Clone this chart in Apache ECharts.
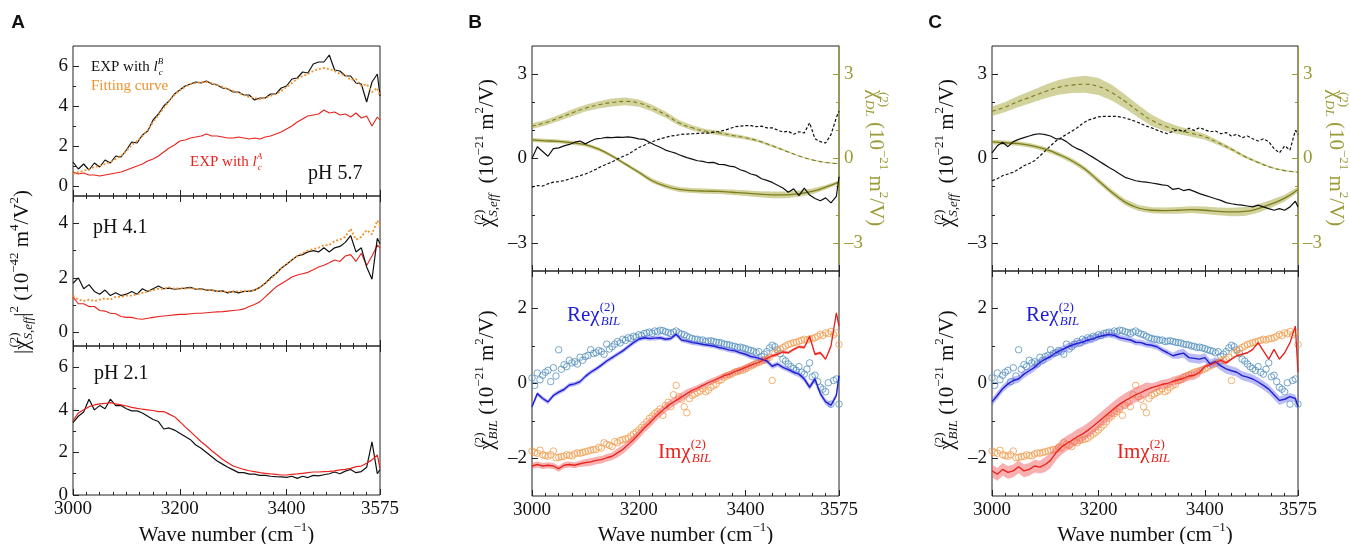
<!DOCTYPE html>
<html><head><meta charset="utf-8">
<script src="https://cdn.jsdelivr.net/npm/echarts@6/dist/echarts.min.js"></script>
<style>html,body{margin:0;padding:0;background:#fff}#c{width:1350px;height:544px}</style>
</head><body><div id="c"></div>
<script>
// ---------- DATA ----------
const wn = [3000,3010,3020,3030,3040,3050,3060,3070,3080,3090,
 3100,3110,3120,3130,3140,3150,3160,3170,3180,3190,
 3200,3210,3220,3230,3240,3250,3260,3270,3280,3290,
 3300,3310,3320,3330,3340,3350,3360,3370,3380,3390,
 3400,3410,3420,3430,3440,3450,3460,3470,3480,3490,
 3500,3510,3520,3530,3540,3550,3560,3570,3575];
const wn5 = [3005,3015,3025,3035,3045,3055,3065,3075,3085,3095,
 3105,3115,3125,3135,3145,3155,3165,3175,3185,3195,
 3205,3215,3225,3235,3245,3255,3265,3275,3285,3295,
 3305,3315,3325,3335,3345,3355,3365,3375,3385,3395,
 3405,3415,3425,3435,3445,3455,3465,3475,3485,3495,
 3505,3515,3525,3535,3545,3555,3565];
const wn25 = [3000,3025,3050,3075,3100,3125,3150,3175,3200,3225,3250,3275,3300,3325,3350,3375,3400,3425,3450,3475,3500,3525,3550,3575];
const xLabelVals = [3000,3200,3400,3575];

// Panel A, pH 5.7
const aBlk1 = [1.2,0.85,1.1,0.8,1.15,0.95,1.3,1.15,1.5,1.45,
 1.8,2.2,2.15,2.55,2.75,3.3,3.6,4.0,4.25,4.6,
 4.8,5.0,5.1,5.2,5.15,5.25,5.1,5.05,4.9,4.85,
 4.7,4.7,4.55,4.55,4.3,4.4,4.4,4.6,4.6,4.9,
 5.0,5.35,5.4,5.7,5.65,6.1,6.2,6.2,6.55,5.8,
 5.75,5.5,5.5,5.15,5.1,4.2,5.2,5.6,4.5];
const aFit1 = [0.6,0.7,0.75,0.85,0.95,1.0,1.1,1.2,1.35,1.5,
 1.75,2.05,2.25,2.5,2.8,3.2,3.55,3.9,4.25,4.55,
 4.8,4.95,5.1,5.15,5.2,5.2,5.15,5.05,4.95,4.85,
 4.75,4.65,4.55,4.45,4.4,4.35,4.4,4.5,4.6,4.75,
 4.95,5.15,5.35,5.5,5.6,5.75,5.85,5.9,5.85,5.75,
 5.6,5.55,5.3,5.35,5.0,5.1,4.7,4.9,4.5];
const aRed1 = [0.7,0.6,0.65,0.55,0.55,0.5,0.55,0.6,0.65,0.7,
 0.8,0.9,1.0,1.1,1.25,1.35,1.5,1.7,1.9,2.05,
 2.25,2.3,2.4,2.45,2.5,2.6,2.5,2.5,2.45,2.4,
 2.4,2.45,2.4,2.35,2.4,2.35,2.45,2.5,2.6,2.7,
 2.85,3.0,3.2,3.35,3.5,3.55,3.6,3.8,3.65,3.7,
 3.55,3.6,3.45,3.65,3.4,3.5,3.0,3.45,3.3];
// Panel A, pH 4.1
const aBlk2 = [1.8,2.0,1.6,1.75,1.5,1.4,1.55,1.35,1.45,1.35,
 1.4,1.5,1.4,1.6,1.5,1.6,1.7,1.6,1.62,1.58,
 1.6,1.62,1.65,1.58,1.6,1.55,1.55,1.5,1.52,1.45,
 1.5,1.45,1.5,1.5,1.55,1.65,1.8,2.0,2.15,2.35,
 2.5,2.65,2.8,2.85,2.95,3.0,2.95,3.1,2.95,3.1,
 3.15,3.3,3.55,2.95,3.1,2.4,1.95,3.45,3.25];
const aFit2 = [1.35,1.2,1.15,1.2,1.15,1.2,1.25,1.2,1.3,1.3,
 1.35,1.35,1.4,1.45,1.5,1.55,1.6,1.6,1.65,1.6,
 1.62,1.6,1.62,1.6,1.58,1.55,1.55,1.5,1.5,1.48,
 1.5,1.5,1.5,1.52,1.55,1.65,1.8,1.95,2.15,2.35,
 2.5,2.65,2.8,2.9,3.0,3.05,3.1,3.2,3.2,3.35,
 3.4,3.5,3.8,3.4,3.5,3.75,3.6,4.1,3.9];
const aRed2 = [1.3,1.05,1.05,0.95,0.95,0.8,0.78,0.7,0.68,0.58,
 0.55,0.55,0.5,0.48,0.52,0.55,0.58,0.6,0.62,0.64,
 0.66,0.66,0.68,0.7,0.7,0.72,0.74,0.75,0.76,0.78,
 0.8,0.82,0.86,0.95,1.02,1.12,1.3,1.48,1.66,1.78,
 1.9,2.03,2.1,2.15,2.2,2.3,2.4,2.46,2.55,2.65,
 2.6,2.8,2.85,2.6,2.9,2.45,2.8,3.2,3.1];
// Panel A, pH 2.1
const aBlk3 = [3.4,3.7,3.9,4.5,4.0,4.2,4.05,4.5,4.2,4.2,
 4.05,3.95,3.95,3.85,3.7,3.55,3.45,3.1,3.15,3.05,
 2.9,2.75,2.6,2.35,2.2,2.0,1.8,1.6,1.45,1.3,
 1.18,1.05,1.05,0.98,0.98,0.92,0.92,0.88,0.86,0.85,
 0.83,0.88,0.78,0.88,0.82,0.92,0.9,0.95,1.0,1.08,
 1.0,1.12,1.2,1.05,1.1,1.3,2.5,1.0,1.2];
const aRed3 = [3.5,3.85,4.0,4.15,4.23,4.28,4.3,4.34,4.28,4.23,
 4.18,4.12,4.07,4.03,4.0,3.97,3.92,3.92,3.8,3.68,
 3.45,3.2,2.98,2.74,2.5,2.3,2.08,1.88,1.68,1.52,
 1.36,1.28,1.2,1.14,1.1,1.05,1.02,0.99,0.97,0.94,
 0.94,0.97,0.99,1.02,1.05,1.08,1.08,1.1,1.11,1.13,
 1.18,1.2,1.25,1.33,1.36,1.49,1.65,1.88,1.25];

// Panel B top
const bBlkS = [0.0,0.42,0.25,0.08,0.35,0.38,0.45,0.5,0.58,0.62,
 0.52,0.62,0.7,0.72,0.75,0.74,0.76,0.75,0.77,0.74,
 0.7,0.68,0.58,0.48,0.4,0.3,0.24,0.18,0.1,0.03,
 -0.02,-0.08,-0.1,-0.15,-0.14,-0.21,-0.22,-0.27,-0.3,-0.4,
 -0.46,-0.55,-0.6,-0.72,-0.78,-0.85,-0.95,-1.05,-1.2,-1.08,
 -1.32,-1.05,-1.3,-1.42,-1.5,-1.4,-1.58,-1.35,-0.65];
const bBlkD = [-1.02,-0.96,-0.98,-0.9,-0.84,-0.82,-0.79,-0.73,-0.67,-0.61,
 -0.55,-0.47,-0.38,-0.28,-0.2,-0.12,-0.02,0.07,0.15,0.27,
 0.39,0.47,0.56,0.63,0.7,0.75,0.8,0.82,0.86,0.87,
 0.88,0.89,0.9,0.9,0.94,0.96,1.0,1.06,1.13,1.15,
 1.17,1.17,1.13,1.15,1.09,1.09,1.01,0.94,0.97,0.86,
 0.95,0.91,1.27,0.7,0.6,0.55,0.85,1.45,1.68];
const bDLre = [1.15,1.27,1.44,1.62,1.79,1.91,1.99,2.03,1.97,1.79,1.56,1.27,1.09,0.97,0.91,0.82,0.74,0.62,0.45,0.27,0.09,-0.05,-0.14,-0.18];
const bDLreErr = [0.1,0.1,0.11,0.12,0.12,0.13,0.14,0.14,0.13,0.12,0.11,0.1,0.09,0.08,0.08,0.07,0.06,0.05,0.04,0.03,0.02,0.02,0.02,0.02];
const bDLim = [0.66,0.63,0.61,0.56,0.49,0.33,0.09,-0.2,-0.49,-0.79,-0.98,-1.1,-1.14,-1.16,-1.17,-1.2,-1.23,-1.27,-1.29,-1.29,-1.25,-1.17,-1.02,-0.84];
const bDLimErr = [0.07,0.07,0.07,0.07,0.06,0.06,0.06,0.06,0.07,0.08,0.09,0.09,0.09,0.09,0.09,0.1,0.1,0.11,0.12,0.12,0.11,0.1,0.08,0.06];

// Panel B bottom
const bRe = [-0.62,-0.27,-0.4,-0.49,-0.32,-0.23,-0.16,-0.04,-0.01,0.05,
 0.19,0.3,0.39,0.49,0.6,0.69,0.78,0.87,0.98,1.09,
 1.18,1.22,1.2,1.21,1.22,1.18,1.2,1.31,1.16,1.13,
 1.09,1.07,1.04,1.02,1.0,0.96,0.93,0.89,0.87,0.82,
 0.78,0.72,0.69,0.65,0.6,0.46,0.52,0.43,0.37,0.3,
 0.25,0.12,-0.1,0.12,-0.27,-0.49,-0.58,-0.32,0.21];
const bReErr = [0.06,0.06,0.06,0.06,0.06,0.06,0.06,0.06,0.06,0.06,
 0.06,0.06,0.06,0.06,0.06,0.06,0.06,0.06,0.06,0.06,
 0.06,0.06,0.06,0.06,0.06,0.06,0.06,0.06,0.06,0.06,
 0.06,0.06,0.06,0.06,0.06,0.06,0.06,0.06,0.06,0.06,
 0.07,0.07,0.07,0.07,0.07,0.07,0.07,0.07,0.07,0.07,
 0.08,0.08,0.08,0.08,0.08,0.08,0.08,0.08,0.08];
const bIm = [-2.2,-2.16,-2.2,-2.18,-2.2,-2.27,-2.18,-2.16,-2.18,-2.14,
 -2.11,-2.09,-2.05,-2.03,-1.98,-1.94,-1.85,-1.76,-1.63,-1.5,
 -1.35,-1.19,-1.06,-0.91,-0.77,-0.65,-0.54,-0.45,-0.36,-0.27,
 -0.18,-0.12,-0.05,0.02,0.08,0.14,0.21,0.25,0.32,0.37,
 0.43,0.49,0.54,0.6,0.67,0.74,0.78,0.84,0.82,0.91,
 0.98,0.96,1.26,0.78,0.82,0.65,1.0,1.88,1.53];
const bImErr = [0.08,0.08,0.08,0.08,0.08,0.08,0.08,0.08,0.08,0.08,
 0.1,0.1,0.1,0.1,0.1,0.1,0.12,0.12,0.12,0.12,
 0.12,0.12,0.12,0.12,0.12,0.12,0.12,0.12,0.12,0.12,
 0.08,0.08,0.08,0.08,0.08,0.08,0.08,0.08,0.08,0.08,
 0.08,0.08,0.08,0.08,0.08,0.04,0.04,0.04,0.04,0.04,
 0.04,0.04,0.04,0.04,0.04,0.04,0.04,0.04,0.04];
// measured circles (shared by B and C), two interleaved sets
const reCirc = [0.15,0.28,0.22,0.35,0.42,0.9,0.5,0.62,0.58,0.7,
 0.72,0.9,0.82,0.85,1.05,0.98,1.12,1.18,1.22,1.26,
 1.3,1.33,1.37,1.4,1.42,1.38,1.33,1.4,1.32,1.26,
 1.2,1.18,1.16,1.13,1.12,1.09,1.05,1.03,0.99,0.97,
 0.93,0.88,0.82,0.72,0.85,1.02,0.9,0.65,0.52,0.4,
 0.45,0.25,0.55,0.22,-0.1,-0.22,-0.55,0.12,-0.55];
const reCirc2 = [-0.05,0.1,0.3,0.05,0.2,0.38,0.45,0.55,0.52,0.62,
 0.75,0.8,0.88,0.78,0.92,1.05,1.08,1.15,1.2,1.24,
 1.28,1.35,1.34,1.38,1.41,1.36,1.37,1.35,1.3,1.22,
 1.18,1.15,1.12,1.14,1.1,1.08,1.04,1.0,0.96,0.95,
 0.9,0.86,0.85,0.78,0.95,0.98,0.8,0.6,0.45,0.35,
 0.3,0.38,0.18,0.05,-0.15,0.02,0.08];
const imCirc = [-1.8,-1.86,-1.9,-1.94,-1.8,-1.97,-1.94,-1.92,-1.88,-1.86,
 -1.82,-1.78,-1.76,-1.72,-1.62,-1.68,-1.58,-1.5,-1.46,-1.35,
 -1.24,-1.1,-0.93,-0.8,-0.68,-0.58,-0.62,-0.05,-0.42,-0.78,
 -0.32,-0.24,-0.14,-0.18,-0.05,0.08,0.17,0.23,0.3,0.34,
 0.39,0.47,0.54,0.6,0.65,0.08,0.87,0.96,1.04,1.09,
 1.13,1.18,1.19,1.22,1.31,1.35,1.39,1.35,1.04];
const imCirc2 = [-1.84,-1.78,-1.92,-1.9,-1.98,-1.95,-1.9,-1.93,-1.85,-1.84,
 -1.8,-1.76,-1.7,-1.58,-1.65,-1.55,-1.52,-1.48,-1.4,-1.3,
 -1.17,-1.02,-0.87,-0.75,-0.85,-0.5,-0.3,-0.35,-0.62,-0.4,
 -0.28,-0.2,-0.22,-0.1,-0.02,0.1,0.2,0.26,0.32,0.36,
 0.43,0.5,0.56,0.62,0.7,0.8,0.92,1.0,1.06,1.1,
 1.15,1.16,1.2,1.26,1.28,1.33,1.3];

// Panel C top
const cBlkS = [0.2,0.45,0.58,0.42,0.6,0.68,0.74,0.8,0.86,0.88,
 0.85,0.8,0.7,0.7,0.6,0.45,0.35,0.27,0.15,0.04,
 -0.08,-0.2,-0.32,-0.43,-0.55,-0.67,-0.73,-0.79,-0.82,-0.84,
 -0.87,-0.9,-0.94,-0.96,-1.1,-1.06,-1.14,-1.1,-1.17,-1.25,
 -1.31,-1.37,-1.43,-1.49,-1.57,-1.61,-1.64,-1.66,-1.69,-1.72,
 -1.66,-1.72,-1.78,-1.84,-1.78,-1.84,-1.72,-1.52,-1.72];
const cBlkD = [-0.79,-0.72,-0.61,-0.55,-0.49,-0.38,-0.26,-0.18,-0.08,0.09,
 0.27,0.45,0.62,0.74,0.86,0.97,1.09,1.24,1.36,1.42,
 1.48,1.5,1.5,1.5,1.48,1.44,1.38,1.32,1.24,1.15,
 1.09,1.01,0.94,0.88,0.97,1.03,0.95,1.08,1.0,1.1,
 1.02,0.95,0.98,0.88,0.92,0.8,0.86,0.74,0.8,0.7,
 0.62,0.7,0.6,0.35,0.2,0.45,0.3,1.0,0.85];
const cDLre = [1.68,1.83,2.03,2.2,2.38,2.53,2.61,2.64,2.56,2.34,2.03,1.68,1.36,1.15,1.01,0.89,0.77,0.56,0.33,0.07,-0.14,-0.32,-0.43,-0.49];
const cDLreErr = [0.17,0.18,0.2,0.22,0.24,0.26,0.28,0.3,0.3,0.28,0.25,0.22,0.2,0.17,0.14,0.12,0.1,0.08,0.06,0.05,0.04,0.03,0.02,0.02];
const cDLim = [0.59,0.56,0.53,0.45,0.33,0.15,-0.08,-0.38,-0.79,-1.2,-1.55,-1.76,-1.84,-1.85,-1.84,-1.82,-1.84,-1.88,-1.9,-1.88,-1.78,-1.61,-1.41,-1.1];
const cDLimErr = [0.08,0.08,0.08,0.08,0.08,0.08,0.09,0.09,0.1,0.1,0.11,0.11,0.11,0.11,0.12,0.12,0.13,0.14,0.15,0.16,0.15,0.14,0.12,0.1];

// Panel C bottom
const cRe = [-0.49,-0.32,-0.14,-0.01,0.08,0.12,0.25,0.34,0.43,0.56,
 0.65,0.72,0.82,0.89,0.96,1.02,1.07,1.1,1.16,1.19,
 1.25,1.28,1.31,1.28,1.22,1.19,1.16,1.1,1.09,1.04,
 1.02,0.98,0.89,0.82,0.74,0.78,0.81,0.69,0.67,0.65,
 0.69,0.52,0.58,0.47,0.39,0.34,0.3,0.21,0.17,0.12,
 0.04,-0.05,-0.15,-0.3,-0.45,-0.42,-0.35,-0.4,-0.62];
const cReErr = [0.1,0.1,0.1,0.1,0.1,0.1,0.1,0.1,0.1,0.1,
 0.1,0.1,0.1,0.1,0.1,0.1,0.1,0.1,0.1,0.1,
 0.08,0.08,0.08,0.08,0.08,0.08,0.08,0.08,0.08,0.08,
 0.08,0.08,0.08,0.08,0.08,0.12,0.12,0.12,0.12,0.12,
 0.12,0.12,0.12,0.12,0.12,0.12,0.12,0.12,0.12,0.12,
 0.12,0.12,0.12,0.12,0.12,0.1,0.1,0.1,0.1];
const cIm = [-2.33,-2.42,-2.29,-2.37,-2.33,-2.22,-2.33,-2.29,-2.2,-2.23,
 -2.16,-2.05,-1.85,-1.7,-1.6,-1.52,-1.42,-1.35,-1.25,-1.14,
 -1.02,-0.9,-0.78,-0.66,-0.55,-0.46,-0.38,-0.3,-0.24,-0.17,
 -0.11,-0.07,-0.02,0.0,0.06,0.1,0.14,0.2,0.22,0.3,
 0.45,0.5,0.56,0.62,0.55,0.65,0.74,0.78,0.82,0.91,
 1.09,0.87,0.65,0.91,0.65,0.82,1.09,1.53,0.3];
const cImErr = [0.17,0.17,0.17,0.17,0.17,0.17,0.17,0.17,0.17,0.17,
 0.2,0.2,0.2,0.2,0.2,0.2,0.2,0.2,0.2,0.2,
 0.2,0.2,0.2,0.2,0.2,0.2,0.2,0.2,0.2,0.2,
 0.12,0.12,0.12,0.12,0.12,0.12,0.12,0.12,0.12,0.12,
 0.05,0.05,0.05,0.05,0.05,0.02,0.02,0.02,0.02,0.02,
 0.02,0.02,0.02,0.02,0.02,0.02,0.02,0.02,0.02];

// ---------- STYLE ----------
const SERIF = '"Liberation Serif","Times New Roman",serif';
const SANS = '"Liberation Sans",Arial,sans-serif';
const INK = '#111';
const RED = '#e8231d';
const ORANGE = '#f0922e';
const OLIVE = '#7c7c1c';
const OLIVE_AX = '#9a9a36';
const OLIVE_BAND = 'rgba(165,165,60,0.5)';
const BLUE = '#1e1ed4';
const BLUE_BAND = 'rgba(105,105,235,0.45)';
const RED_BAND = 'rgba(242,95,95,0.5)';
const CIRC_BLUE = '#5591bd';
const CIRC_ORANGE = '#f29c4c';

const grids = [
  {left:73, top:46, width:307, height:150},
  {left:73, top:196, width:307, height:150},
  {left:73, top:346, width:307, height:149},
  {left:532, top:46, width:307, height:225},
  {left:532, top:271, width:307, height:225},
  {left:992, top:46, width:306, height:225},
  {left:992, top:271, width:306, height:225}
].map(g => Object.assign({show:true, borderColor:'#222', borderWidth:1, backgroundColor:'transparent', outerBoundsMode:'none', containLabel:false}, g));

const bottomGrids = [2,4,6];
const lowerGrids = [1,2,4,6];
const yCfg = [
  {min:-0.5, max:7, major:[0,2,4,6], minor:[1,3,5]},
  {min:-0.5, max:5, major:[0,2,4], minor:[1,3]},
  {min:0, max:7, major:[0,2,4,6], minor:[1,3,5]},
  {min:-4, max:4, major:[-3,0,3], minor:[-2,-1,1,2], right:true},
  {min:-3, max:3, major:[-2,0,2], minor:[-1,1]},
  {min:-4, max:4, major:[-3,0,3], minor:[-2,-1,1,2], right:true},
  {min:-3, max:3, major:[-2,0,2], minor:[-1,1]}
];
const fmt = v => v < 0 ? '\u2013' + Math.abs(v) : String(v);
const TICKFS = 19;

const xAxes = [], yAxes = [], xMain = [], yMain = [], yRight = [];
function xAx(g, pos, interval, len, labels) {
  return {type:'value', gridIndex:g, position:pos, min:3000, max:3575, interval:interval,
    axisLine:{show:false, onZero:false},
    axisTick:{show:true, inside:true, length:len, lineStyle:{color:'#222', width:1}},
    axisLabel: labels ? {show:true, customValues:xLabelVals, formatter:v => String(v), fontFamily:SERIF, fontSize:TICKFS, color:INK, margin:5} : {show:false},
    splitLine:{show:false}};
}
function yAx(g, pos, c, ticks, len, labels, color, line) {
  return {type:'value', gridIndex:g, position:pos, min:c.min, max:c.max,
    axisLine:{show:!!line, onZero:false, lineStyle:{color:color, width:1}},
    axisTick:{show:true, inside:true, length:len, customValues:ticks, lineStyle:{color:color, width:1}},
    axisLabel: labels ? {show:true, customValues:labels, formatter:fmt, fontFamily:SERIF, fontSize:TICKFS, color:color === '#222' ? INK : color, margin:5} : {show:false},
    splitLine:{show:false}};
}
grids.forEach((gr, g) => {
  xMain[g] = xAxes.length;
  xAxes.push(xAx(g, 'bottom', 25, 3, bottomGrids.includes(g)));
  xAxes.push(xAx(g, 'bottom', 200, 6, false));
  if (lowerGrids.includes(g)) {
    xAxes.push(xAx(g, 'top', 25, 3, false));
    xAxes.push(xAx(g, 'top', 200, 6, false));
  }
  const c = yCfg[g];
  yMain[g] = yAxes.length;
  yAxes.push(yAx(g, 'left', c, c.major, 6, c.major, '#222', false));
  yAxes.push(yAx(g, 'left', c, c.minor, 3, null, '#222', false));
  if (c.right) {
    yRight[g] = yAxes.length;
    yAxes.push(yAx(g, 'right', c, c.major, 6, c.major, OLIVE_AX, true));
    yAxes.push(yAx(g, 'right', c, c.minor, 3, null, OLIVE_AX, false));
  }
});

const pairs = (xs, ys) => xs.map((x, i) => [x, ys[i]]);
function line(g, xs, ys, color, o = {}) {
  return {type:'line', xAxisIndex:xMain[g], yAxisIndex:o.right ? yRight[g] : yMain[g],
    data:pairs(xs, ys), showSymbol:false, symbol:'none', smooth:!!o.smooth, z:o.z || 3, silent:true,
    lineStyle:{color:color, width:o.w || 1.2, type:o.dash || 'solid'}};
}
function circles(g, xs, ys, color) {
  return {type:'scatter', xAxisIndex:xMain[g], yAxisIndex:yMain[g], data:pairs(xs, ys),
    symbol:'circle', symbolSize:6.5, z:1, silent:true,
    itemStyle:{color:'rgba(255,255,255,0)', borderColor:color, borderWidth:1}};
}
function band(g, xs, c, e, fill, right) {
  return {type:'custom', coordinateSystem:'cartesian2d', xAxisIndex:xMain[g], yAxisIndex:right ? yRight[g] : yMain[g],
    data:pairs(xs, c), encode:{x:0, y:1}, z:2, silent:true,
    renderItem:(params, api) => {
      if (params.dataIndex !== 0) return null;
      const pts = [];
      for (let i = 0; i < xs.length; i++) pts.push(api.coord([xs[i], c[i] + e[i]]));
      for (let i = xs.length - 1; i >= 0; i--) pts.push(api.coord([xs[i], c[i] - e[i]]));
      return {type:'polygon', shape:{points:pts}, style:{fill:fill, stroke:null}};
    }};
}

const series = [
  // A
  line(0, wn, aRed1, RED, {w:1.1}),
  line(0, wn, aBlk1, INK, {w:1.2}),
  line(0, wn, aFit1, ORANGE, {w:1.8, dash:[2,2], z:4}),
  line(1, wn, aRed2, RED, {w:1.1}),
  line(1, wn, aBlk2, INK, {w:1.2}),
  line(1, wn, aFit2, ORANGE, {w:1.8, dash:[2,2], z:4}),
  line(2, wn, aBlk3, INK, {w:1.2}),
  line(2, wn, aRed3, RED, {w:1.2, z:4}),
  // B top
  band(3, wn25, bDLre, bDLreErr, OLIVE_BAND, true),
  band(3, wn25, bDLim, bDLimErr, OLIVE_BAND, true),
  line(3, wn25, bDLre, OLIVE, {right:true, smooth:true, dash:[4,3], w:1.1}),
  line(3, wn25, bDLim, OLIVE, {right:true, smooth:true, w:1.3}),
  line(3, wn, bBlkS, INK, {w:1.2}),
  line(3, wn, bBlkD, INK, {w:1.2, dash:[3,2]}),
  // B bottom
  circles(4, wn, reCirc, CIRC_BLUE),
  circles(4, wn5, reCirc2, CIRC_BLUE),
  circles(4, wn, imCirc, CIRC_ORANGE),
  circles(4, wn5, imCirc2, CIRC_ORANGE),
  band(4, wn, bRe, bReErr, BLUE_BAND),
  band(4, wn, bIm, bImErr, RED_BAND),
  line(4, wn, bRe, BLUE, {w:1.4}),
  line(4, wn, bIm, RED, {w:1.3}),
  // C top
  band(5, wn25, cDLre, cDLreErr, OLIVE_BAND, true),
  band(5, wn25, cDLim, cDLimErr, OLIVE_BAND, true),
  line(5, wn25, cDLre, OLIVE, {right:true, smooth:true, dash:[4,3], w:1.1}),
  line(5, wn25, cDLim, OLIVE, {right:true, smooth:true, w:1.3}),
  line(5, wn, cBlkS, INK, {w:1.2}),
  line(5, wn, cBlkD, INK, {w:1.2, dash:[3,2]}),
  // C bottom
  circles(6, wn, reCirc, CIRC_BLUE),
  circles(6, wn5, reCirc2, CIRC_BLUE),
  circles(6, wn, imCirc, CIRC_ORANGE),
  circles(6, wn5, imCirc2, CIRC_ORANGE),
  band(6, wn, cRe, cReErr, BLUE_BAND),
  band(6, wn, cIm, cImErr, RED_BAND),
  line(6, wn, cRe, BLUE, {w:1.4}),
  line(6, wn, cIm, RED, {w:1.3})
];

// ---------- TEXT ----------
function R(s, c) {
  const sm = Math.round(s * 0.63), lh = Math.round(s * 1.3), sl = sm + 1;
  const base = {fontFamily:SERIF, fill:c};
  return {
    n:Object.assign({fontSize:s, lineHeight:lh}, base),
    i:Object.assign({fontSize:s, lineHeight:lh, fontStyle:'italic'}, base),
    p:Object.assign({fontSize:sm, lineHeight:sl, verticalAlign:'top'}, base),
    pz:Object.assign({fontSize:sm, lineHeight:sl, verticalAlign:'top', width:1}, base),
    pzi:Object.assign({fontSize:sm, lineHeight:sl, verticalAlign:'top', width:1, fontStyle:'italic'}, base),
    b:Object.assign({fontSize:sm, lineHeight:sl, verticalAlign:'bottom', fontStyle:'italic'}, base)
  };
}
function T(x, y, text, o = {}) {
  const s = o.size || 19, c = o.color || INK;
  return {type:'text', x:x, y:y, rotation:o.rot || 0, silent:true, z:100,
    style:{text:text, fill:c, fontSize:s, fontFamily:o.family || SERIF, fontWeight:o.weight || 'normal',
      align:o.align || 'left', verticalAlign:'middle', rich:R(s, c)}};
}
const UP = Math.PI / 2, DOWN = -Math.PI / 2;
const unit21 = '{n| (10}{p|\u221221}{n| m}{p|2}{n|/V)}';
const graphics = [
  T(18, 23, 'A', {size:19, weight:'bold', family:SANS, align:'center'}),
  T(475, 23, 'B', {size:19, weight:'bold', family:SANS, align:'center'}),
  T(935, 23, 'C', {size:19, weight:'bold', family:SANS, align:'center'}),
  T(91, 67, '{n|EXP with }{i|l}{pzi|B}{b|c}', {size:15}),
  T(91, 86, '{n|Fitting curve}', {size:15, color:ORANGE}),
  T(190, 162, '{n|EXP with }{i|l}{pzi|A}{b|c}', {size:15, color:RED}),
  T(308, 174, 'pH 5.7', {size:20}),
  T(93, 228, 'pH 4.1', {size:20}),
  T(94, 374, 'pH 2.1', {size:20}),
  T(22, 272, '{n|\u007C\u03c7}{pz|(2)}{b|S,eff}{n|\u007C}{p|2}{n| (10}{p|\u221242}{n| m}{p|4}{n|/V}{p|2}{n|)}', {size:21, rot:UP, align:'center'}),
  T(487, 153, '{n|\u03c7}{pz|(2)}{b|S,eff}{n| }' + unit21, {size:21, rot:UP, align:'center'}),
  T(876, 158, '{n|\u03c7}{pz|(2)}{b|DL}' + unit21, {size:21, rot:DOWN, align:'center', color:OLIVE_AX}),
  T(487, 380, '{n|\u03c7}{pz|(2)}{b|BIL}' + unit21, {size:21, rot:UP, align:'center'}),
  T(947, 153, '{n|\u03c7}{pz|(2)}{b|S,eff}{n| }' + unit21, {size:21, rot:UP, align:'center'}),
  T(1336, 158, '{n|\u03c7}{pz|(2)}{b|DL}' + unit21, {size:21, rot:DOWN, align:'center', color:OLIVE_AX}),
  T(947, 380, '{n|\u03c7}{pz|(2)}{b|BIL}' + unit21, {size:21, rot:UP, align:'center'}),
  T(567, 315, '{n|Re\u03c7}{pz|(2)}{b|BIL}', {size:21, color:BLUE}),
  T(658, 452, '{n|Im\u03c7}{pz|(2)}{b|BIL}', {size:21, color:RED}),
  T(1026, 315, '{n|Re\u03c7}{pz|(2)}{b|BIL}', {size:21, color:BLUE}),
  T(1117, 452, '{n|Im\u03c7}{pz|(2)}{b|BIL}', {size:21, color:RED}),
  T(226.5, 535, '{n|Wave number (cm}{p|\u22121}{n|)}', {size:21, align:'center'}),
  T(685.5, 535, '{n|Wave number (cm}{p|\u22121}{n|)}', {size:21, align:'center'}),
  T(1145, 535, '{n|Wave number (cm}{p|\u22121}{n|)}', {size:21, align:'center'})
];

const chart = echarts.init(document.getElementById('c'), null, {renderer:'canvas'});
chart.setOption({
  animation:false,
  backgroundColor:'#fff',
  grid:grids,
  xAxis:xAxes,
  yAxis:yAxes,
  series:series,
  graphic:graphics
});
</script>
</body></html>
